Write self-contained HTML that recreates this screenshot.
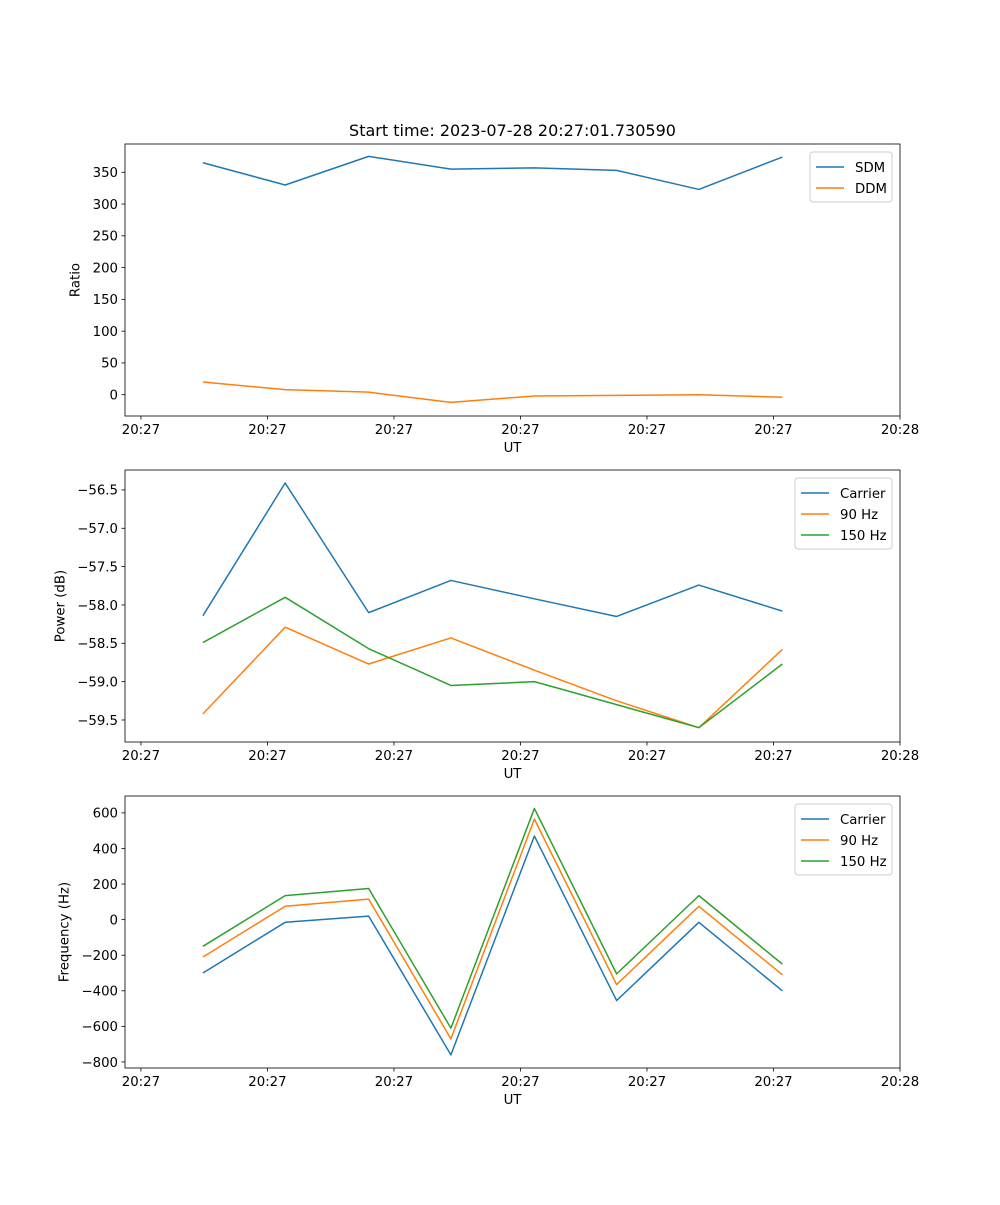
<!DOCTYPE html>
<html><head><meta charset="utf-8"><style>
body{margin:0;background:#fff;}
svg{font-family:"DejaVu Sans","Liberation Sans",sans-serif;}
</style></head><body>
<svg id="fig" width="1000" height="1200" xmlns="http://www.w3.org/2000/svg"></svg>
<script>
// Shared x data (seconds after 20:27:00)
const times = [4.9, 11.4, 18.0, 24.5, 31.1, 37.6, 44.1, 50.7];
const xTicks = [0, 10, 20, 30, 40, 50, 60];
const xTickLabels = ["20:27","20:27","20:27","20:27","20:27","20:27","20:28"];
// Panel 1
const sdm = [365, 330, 375, 355, 357, 353, 323, 374];
const ddm = [20, 8, 4, -12, -2, -1, 0, -4];
const ratioTicks = [0, 50, 100, 150, 200, 250, 300, 350];
// Panel 2
const powCarrier = [-58.14, -56.41, -58.10, -57.68, -57.92, -58.15, -57.74, -58.08];
const pow90 = [-59.42, -58.29, -58.77, -58.43, -58.85, -59.25, -59.60, -58.58];
const pow150 = [-58.49, -57.90, -58.57, -59.05, -59.00, -59.30, -59.60, -58.77];
const powTicks = [-59.5, -59.0, -58.5, -58.0, -57.5, -57.0, -56.5];
// Panel 3
const freqCarrier = [-300, -15, 20, -760, 470, -455, -15, -400];
const freq90 = [-210, 75, 115, -670, 565, -365, 75, -310];
const freq150 = [-150, 135, 175, -610, 625, -305, 135, -250];
const freqTicks = [-800, -600, -400, -200, 0, 200, 400, 600];

const NS="http://www.w3.org/2000/svg";
const svg=document.getElementById('fig');
function mk(tag,attrs,parent,text){const e=document.createElementNS(NS,tag);for(const k in attrs)e.setAttribute(k,attrs[k]);if(text!==undefined)e.textContent=text;(parent||svg).appendChild(e);return e;}
const C={blue:"#1f77b4",orange:"#ff7f0e",green:"#2ca02c"};
const L=125,R=900,xmin=-1.26,xmax=60;
function xs(v){return L+(v-xmin)/(xmax-xmin)*(R-L);}
function fmt(v,dec){return (v<0?"\u2212":"")+Math.abs(v).toFixed(dec);}

function panel(name,top,bot,ymin,ymax,ticks,dec,ylabel,series,legend){
  const g=mk('g',{},svg);
  
  
  const ys=v=>bot-(v-ymin)/(ymax-ymin)*(bot-top);
  series.forEach(s=>{
    const pts=times.map((t,i)=>xs(t).toFixed(2)+","+ys(s.vals[i]).toFixed(2)).join(" ");
    const p=mk('polyline',{points:pts,fill:"none",stroke:s.color,"stroke-width":1.5,"stroke-linejoin":"round"},g);
    
    
  });
  const fr=mk('rect',{x:L,y:top,width:R-L,height:bot-top,fill:"none",stroke:"#000","stroke-width":0.8},g);
  
  
  xTicks.forEach((t,i)=>{
    const x=xs(t);
    mk('line',{x1:x,x2:x,y1:bot,y2:bot+3.5,stroke:"#000","stroke-width":0.8},g);
    const tl=mk('text',{x:x,y:bot+18,"font-size":"13.3","text-anchor":"middle"},g,xTickLabels[i]);
    
    
  });
  const xl=mk('text',{x:(L+R)/2,y:bot+36,"font-size":"13.3","text-anchor":"middle"},g,"UT");
  
  
  let maxw=0;
  ticks.forEach(t=>{
    const y=ys(t);
    mk('line',{x1:L-3.5,x2:L,y1:y,y2:y,stroke:"#000","stroke-width":0.8},g);
    const s=fmt(t,dec);
    const tl=mk('text',{x:L-7,y:y+4.8,"font-size":"13.3","text-anchor":"end"},g,s);
    
    
    let w=s.length*8.2;try{w=tl.getComputedTextLength();}catch(e){}
    maxw=Math.max(maxw,w);
  });
  const yx=L-7-maxw-13;
  const yl=mk('text',{x:yx,y:(top+bot)/2,"font-size":"13.3","text-anchor":"middle",transform:`rotate(-90 ${yx} ${(top+bot)/2})`},g,ylabel);
  
  
  const lg=mk('g',{},g);
  
  
  mk('rect',{x:legend.x,y:top+8,width:R-8-legend.x,height:series.length*21+8,rx:3,fill:"#fff","fill-opacity":0.8,stroke:"#ccc","stroke-width":1},lg);
  series.forEach((s,i)=>{
    const y=top+8+15+i*21;
    const e=mk('g',{},lg);
    
    
    mk('line',{x1:legend.x+6,x2:legend.x+34,y1:y,y2:y,stroke:s.color,"stroke-width":1.5},e);
    mk('text',{x:legend.x+45,y:y+5,"font-size":"13.3"},e,s.label);
  });
}
const t=mk('text',{x:512.5,y:136,"font-size":"16","text-anchor":"middle"},svg,"Start time: 2023-07-28 20:27:01.730590");



panel('ratio-panel',144,416,-33.5,394.5,ratioTicks,0,"Ratio",
 [{id:'sdm',label:'SDM',vals:sdm,color:C.blue},{id:'ddm',label:'DDM',vals:ddm,color:C.orange}],{x:810});
panel('power-panel',470,742,-59.787,-56.24,powTicks,1,"Power (dB)",
 [{id:'carrier',label:'Carrier',vals:powCarrier,color:C.blue},{id:'90hz',label:'90 Hz',vals:pow90,color:C.orange},{id:'150hz',label:'150 Hz',vals:pow150,color:C.green}],{x:795});
panel('frequency-panel',796,1068,-834,695,freqTicks,0,"Frequency (Hz)",
 [{id:'carrier',label:'Carrier',vals:freqCarrier,color:C.blue},{id:'90hz',label:'90 Hz',vals:freq90,color:C.orange},{id:'150hz',label:'150 Hz',vals:freq150,color:C.green}],{x:795});
</script>
</body></html>
